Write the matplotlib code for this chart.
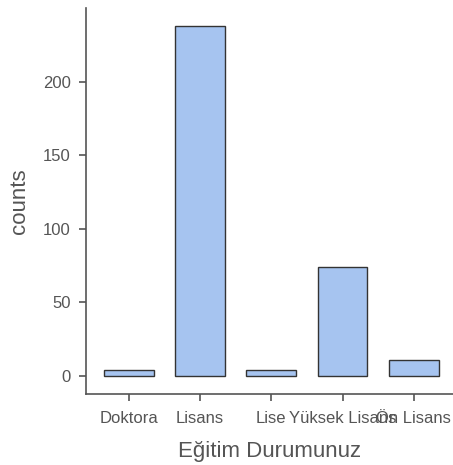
import matplotlib
matplotlib.use('Agg')
import matplotlib.pyplot as plt

# Eğitim durumu dağılımı
categories = ['Doktora', 'Lisans', 'Lise', 'Yüksek Lisans', 'Ön Lisans']
counts = [4, 238, 4, 74, 11]
y_ticks = [0, 50, 100, 150, 200]

TEXT_COLOR = '#555555'
AXIS_COLOR = '#555555'

plt.rcParams['font.family'] = ['Liberation Sans', 'DejaVu Sans']

fig = plt.figure(figsize=(4.53, 4.65), dpi=100)
ax = fig.add_axes([86 / 453, 1 - 394 / 465, (453 - 86) / 453, (394 - 8) / 465])

x = list(range(len(categories)))
ax.bar(x, counts, width=0.7, color='#a6c4f0', edgecolor='#333333', linewidth=1.0)

ax.set_xlim(-0.6, 4.55)
ax.set_ylim(-12.2, 250)
ax.set_xticks(x)
ax.set_xticklabels(categories)
ax.set_yticks(y_ticks)

for side in ('top', 'right'):
    ax.spines[side].set_visible(False)
for side in ('left', 'bottom'):
    ax.spines[side].set_color(AXIS_COLOR)
    ax.spines[side].set_linewidth(1.2)

ax.tick_params(axis='both', colors=AXIS_COLOR, labelcolor=TEXT_COLOR, length=5, width=1.2,
               labelsize=12)
ax.tick_params(axis='x', pad=7)
ax.tick_params(axis='y', pad=6)

ax.set_xlabel('Eğitim Durumunuz', fontsize=16, color=TEXT_COLOR, labelpad=11)
ax.set_ylabel('counts', fontsize=16, color=TEXT_COLOR, labelpad=9)

fig.savefig('out.png', dpi=100, facecolor='white')
